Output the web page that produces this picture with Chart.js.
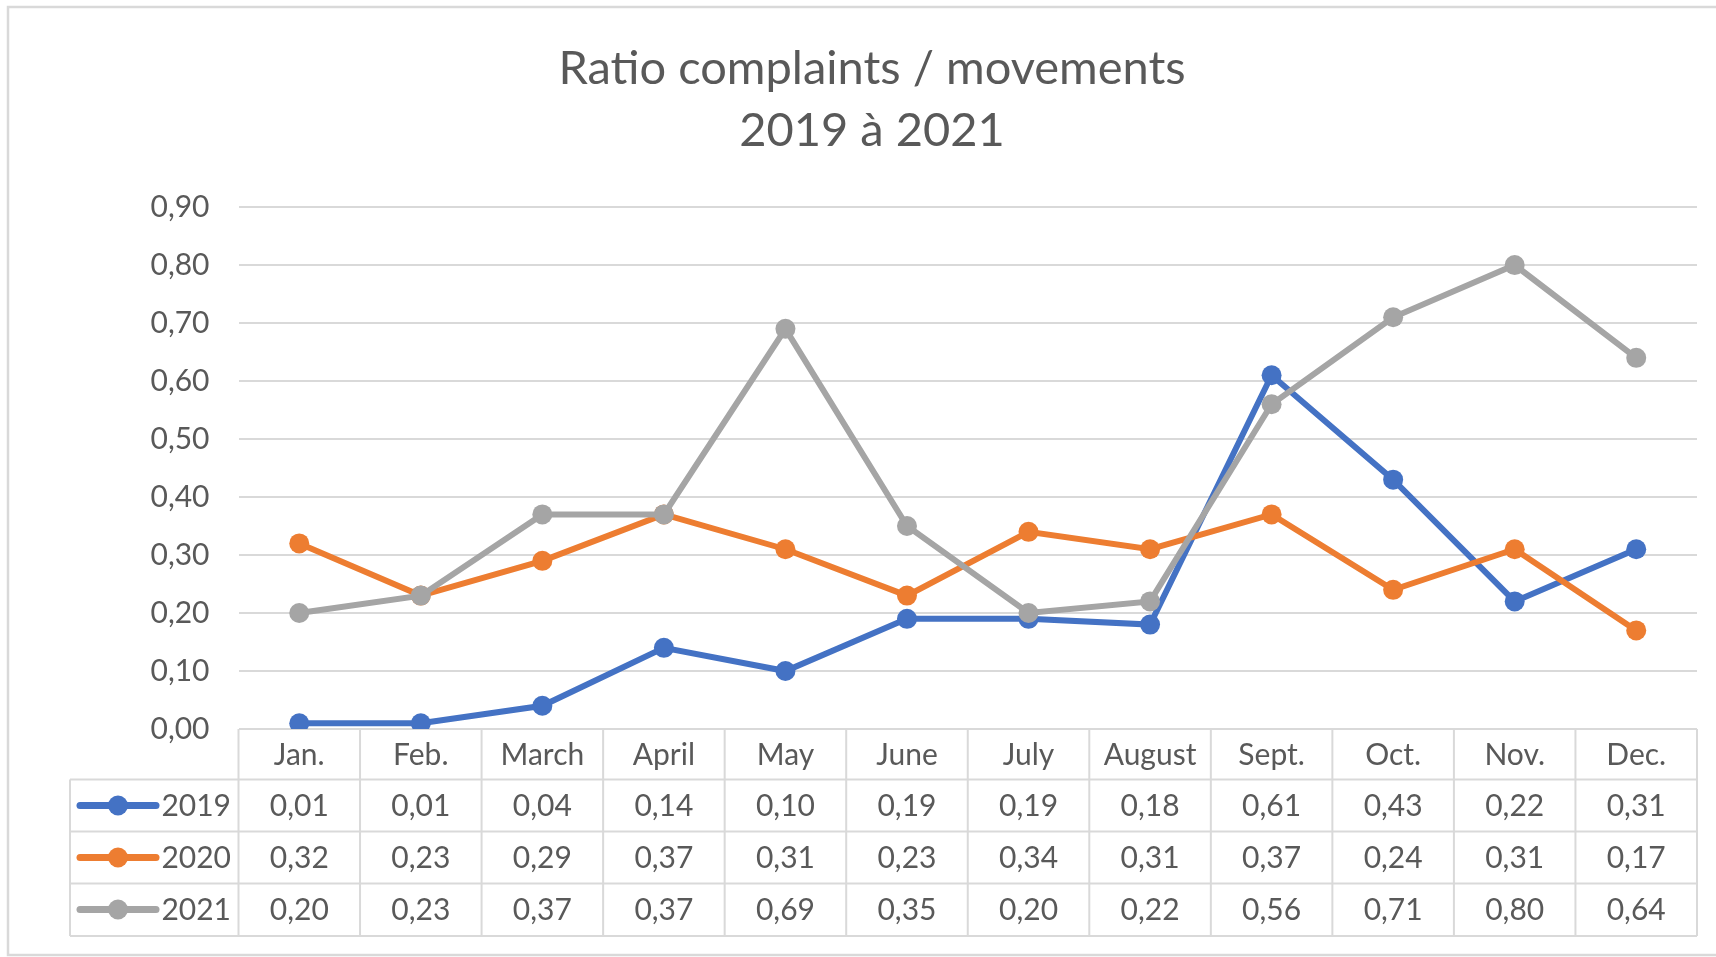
<!DOCTYPE html>
<html>
<head>
<meta charset="utf-8">
<title>Ratio complaints / movements</title>
<script src="https://cdn.jsdelivr.net/npm/chart.js@4/dist/chart.umd.min.js"></script>
<style>
    body { margin: 0; background: #ffffff; }
    #wrap { width: 1716px; height: 957px; }
</style>
</head>
<body>
<div id="wrap"><canvas id="ratioChart" width="1716" height="957"></canvas></div>
<script>
// Chart data
const months = ['Jan.', 'Feb.', 'March', 'April', 'May', 'June', 'July', 'August', 'Sept.', 'Oct.', 'Nov.', 'Dec.'];
const seriesNames = ['2019', '2020', '2021'];
const values2019 = [0.01, 0.01, 0.04, 0.14, 0.10, 0.19, 0.19, 0.18, 0.61, 0.43, 0.22, 0.31];
const values2020 = [0.32, 0.23, 0.29, 0.37, 0.31, 0.23, 0.34, 0.31, 0.37, 0.24, 0.31, 0.17];
const values2021 = [0.20, 0.23, 0.37, 0.37, 0.69, 0.35, 0.20, 0.22, 0.56, 0.71, 0.80, 0.64];
const titleLines = ['Ratio complaints / movements', '2019 à 2021'];

const seriesColors = ['#4472c4', '#ed7d31', '#a5a5a5'];
const textColor = '#595959';
const lineColor = '#d9d9d9';
const fontFamily = 'Lato, "Open Sans", sans-serif';

function formatValue(v) {
    return v.toFixed(2).replace('.', ',');
}

function makeDataset(i, data) {
    return {
        label: seriesNames[i],
        data: data,
        borderColor: seriesColors[i],
        backgroundColor: seriesColors[i],
        borderWidth: 6,
        pointRadius: 10,
        pointHoverRadius: 10,
        pointBackgroundColor: seriesColors[i],
        pointBorderWidth: 0,
        tension: 0,
        order: 2 - i
    };
}

// draws the outer frame and the data table under the plot
const tablePlugin = {
    id: 'dataTable',
    beforeDraw(chart) {
        const ctx = chart.ctx;
        ctx.save();
        ctx.strokeStyle = lineColor;
        ctx.lineWidth = 2.5;
        ctx.strokeRect(8, 7, 1716, 948);
        ctx.restore();
    },
    afterDraw(chart) {
        const ctx = chart.ctx;
        const area = chart.chartArea;
        const x = chart.scales.x;
        const colW = (area.right - area.left) / months.length;
        const headerTop = area.bottom;
        const rowTops = [779.5, 831.5, 883.5];
        const tableBottom = 936;
        const legendLeft = 70;
        const rowH = 52;

        ctx.save();
        ctx.strokeStyle = lineColor;
        ctx.lineWidth = 2;

        // horizontal lines
        ctx.beginPath();
        rowTops.concat([tableBottom]).forEach(y => {
            ctx.moveTo(legendLeft, y);
            ctx.lineTo(area.right, y);
        });
        // vertical lines
        for (let i = 0; i <= months.length; i++) {
            const cx = area.left + i * colW;
            ctx.moveTo(cx, headerTop);
            ctx.lineTo(cx, tableBottom);
        }
        ctx.moveTo(legendLeft, rowTops[0]);
        ctx.lineTo(legendLeft, tableBottom);
        ctx.stroke();

        // header text
        ctx.fillStyle = textColor;
        ctx.font = '30px ' + fontFamily;
        ctx.textAlign = 'center';
        ctx.textBaseline = 'middle';
        months.forEach((m, i) => {
            ctx.fillText(m, x.getPixelForValue(i), (headerTop + rowTops[0]) / 2 + 1);
        });

        // rows
        chart.data.datasets.forEach((ds, r) => {
            const midY = rowTops[r] + rowH / 2 + 1;
            ctx.fillStyle = textColor;
            ctx.textAlign = 'center';
            ds.data.forEach((v, i) => {
                ctx.fillText(formatValue(v), x.getPixelForValue(i), midY);
            });

            // legend key
            ctx.strokeStyle = ds.borderColor;
            ctx.lineWidth = 7;
            ctx.lineCap = 'round';
            ctx.beginPath();
            ctx.moveTo(80, midY - 1);
            ctx.lineTo(156, midY - 1);
            ctx.stroke();
            ctx.fillStyle = ds.borderColor;
            ctx.beginPath();
            ctx.arc(118, midY - 1, 10, 0, Math.PI * 2);
            ctx.fill();

            ctx.fillStyle = textColor;
            ctx.textAlign = 'right';
            ctx.fillText(ds.label, 231, midY);
        });
        ctx.restore();
    }
};

const ctx = document.getElementById('ratioChart').getContext('2d');
const ratioChart = new Chart(ctx, {
    type: 'line',
    data: {
        labels: months,
        datasets: [
            makeDataset(0, values2019),
            makeDataset(1, values2020),
            makeDataset(2, values2021)
        ]
    },
    options: {
        responsive: false,
        animation: false,
        layout: {
            padding: { left: 47, right: 19, top: 0, bottom: 0 }
        },
        scales: {
            x: {
                type: 'category',
                offset: true,
                grid: { display: false },
                border: { display: false },
                ticks: { display: false },
                afterFit: scale => { scale.height = 228; }
            },
            y: {
                min: 0,
                max: 0.9,
                ticks: {
                    stepSize: 0.1,
                    padding: 29,
                    color: textColor,
                    font: { family: fontFamily, size: 30 },
                    callback: v => formatValue(v)
                },
                grid: { color: lineColor, lineWidth: 2, drawTicks: false },
                border: { display: false },
                afterFit: scale => { scale.width = 191.5; }
            }
        },
        plugins: {
            legend: { display: false },
            tooltip: { enabled: false },
            title: {
                display: true,
                text: titleLines,
                color: textColor,
                font: { family: fontFamily, size: 47, weight: 'normal', lineHeight: 1.32 },
                padding: { top: 38, bottom: 45 }
            }
        }
    },
    plugins: [tablePlugin]
});
</script>
</body>
</html>
